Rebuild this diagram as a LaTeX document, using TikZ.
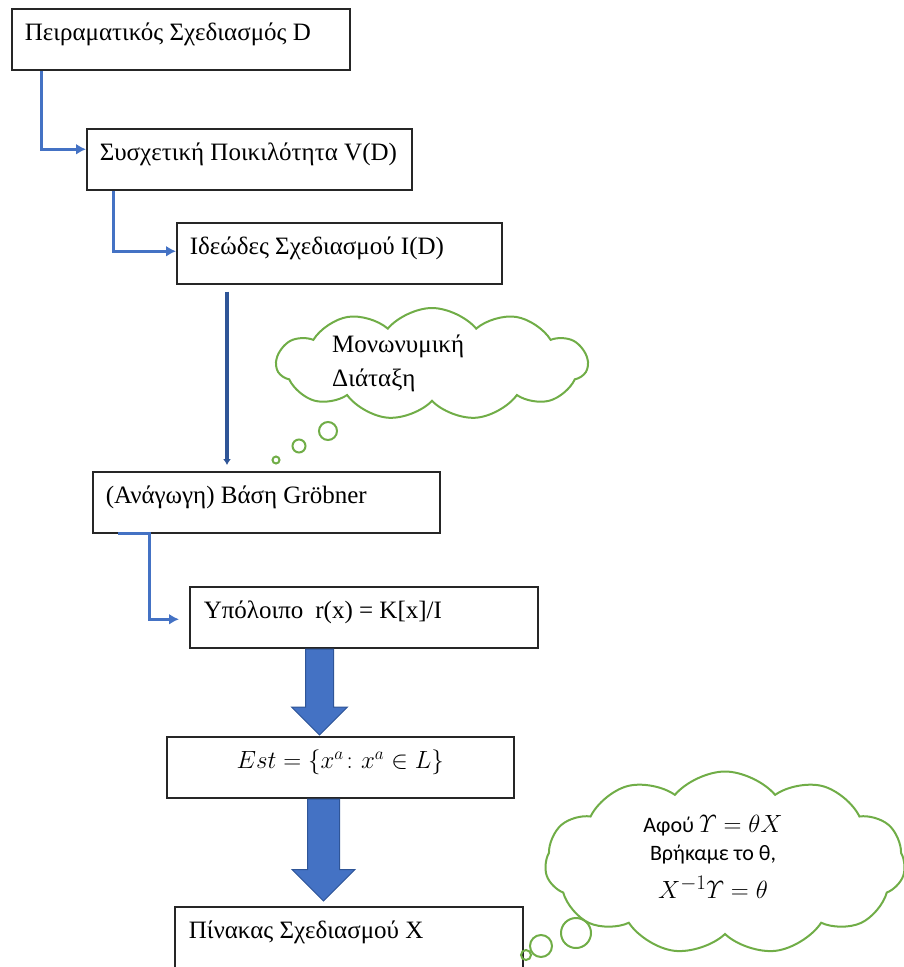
\documentclass[tikz,border=0pt]{standalone}
\usepackage{amsmath}
\usepackage[no-math]{fontspec}
\setmainfont{Liberation Serif}
\newfontfamily\cloudfont{Carlito}
\usetikzlibrary{shapes,arrows,arrows.meta,calc,positioning}
\definecolor{linkblue}{RGB}{68,114,196}
\definecolor{darkblue}{RGB}{47,85,151}
\definecolor{cloudgreen}{RGB}{112,173,71}
\tikzstyle{line} = [draw=linkblue, line width=3pt, -{Latex[length=10pt, width=11pt]}]
\tikzstyle{thinline} = [draw=darkblue, line width=4pt, -{Latex[length=6pt, width=8pt]}]
\tikzstyle{block} = [draw=black!85, line width=1.5pt, rectangle, anchor=north west, align=flush left, inner xsep=13pt, inner ysep=0pt, text height=32pt, text depth=29pt, font=\fontsize{25}{30}\selectfont]
\tikzstyle{bigarrow} = [draw=darkblue, fill=linkblue, line width=1pt, single arrow, shape border rotate=270, anchor=tail]
\tikzstyle{thought} = [draw=cloudgreen, line width=2pt, cloud, cloud puffs=11, cloud puff arc=100, inner sep=0pt]
\tikzstyle{bubble} = [draw=cloudgreen, line width=2pt]
\newcommand{\bigmath}[1]{{\fontsize{24.88}{28}\selectfont$#1$}}

\begin{document}
\begin{tikzpicture}[x=1pt, y=-1pt]
        \useasboundingbox (0,0) rectangle (903,967);
        \node[block, text width=312pt] (b1) at (11,8) {Πειραματικός Σχεδιασμός D};
        \node[block, text width=299pt] (b2) at (86,128) {Συσχετική Ποικιλότητα V(D)};
        \node[block, text width=299pt] (b3) at (176,222) {Ιδεώδες Σχεδιασμού I(D)};
        \node[block, text width=321pt] (b4) at (92,471) {(Ανάγωγη) Βάση Gröbner};
        \node[block, text width=320pt, inner xsep=14pt] (b5) at (189,586) {Υπόλοιπο\hspace{12pt}r(x) = K[x]/I};
        \node[block, text width=321pt, align=flush center] (b6) at (166,736) {$Est=\{x^{a}\colon x^{a}\in L\}$};
        \node[block, text width=320pt, inner xsep=14pt] (b7) at (174,906) {Πίνακας Σχεδιασμού X};
        \node[bigarrow, inner sep=13.5pt, minimum height=86pt, minimum width=55pt, single arrow head extend=14pt] (f1) at ([xshift=130.5pt]b5.south west) {};
        \node[bigarrow, inner sep=15.5pt, minimum height=102pt, minimum width=62pt, single arrow head extend=15.5pt] (f2) at ([xshift=157.5pt]b6.south west) {};
        \node[thought, minimum width=311pt, minimum height=112pt] (c1) at (432,364) {};
        \node[align=left, anchor=north west, inner sep=0pt, font=\fontsize{25}{34}\selectfont] (t1) at (332,335) {Μονωνυμική\\Διάταξη};
        \node[thought, minimum width=360pt, minimum height=183pt] (c2) at (725,863) {};
        \node[align=flush center, font=\cloudfont\fontsize{22}{28}\selectfont] (t2) at (713,857) {Αφού \bigmath{\varUpsilon=\theta X}\\Βρήκαμε το θ,\\[10pt]\bigmath{X^{-1}\varUpsilon=\theta}};
        \draw[bubble] (328,431) circle (9);
        \draw[bubble] (299,446) circle (6.5);
        \draw[bubble] (276,460) circle (3.5);
        \draw[bubble] (576,933) circle (15);
        \draw[bubble] (541,946) circle (11);
        \draw[bubble] (526,955) circle (5);
        \path[line] ([xshift=30pt]b1.south west) |- ([yshift=10pt]b2.west);
        \path[line] ([xshift=27pt]b2.south west) |- ([yshift=2pt]b3.west);
        \path[thinline] ([xshift=51pt,yshift=-7pt]b3.south west) -- ([xshift=135pt,yshift=6pt]b4.north west);
        \path[line, shorten >=10pt] ([xshift=26pt]b4.south west) -- ([xshift=57pt]b4.south west) |- ([yshift=-2pt]b5.west);
\end{tikzpicture}
\end{document}
